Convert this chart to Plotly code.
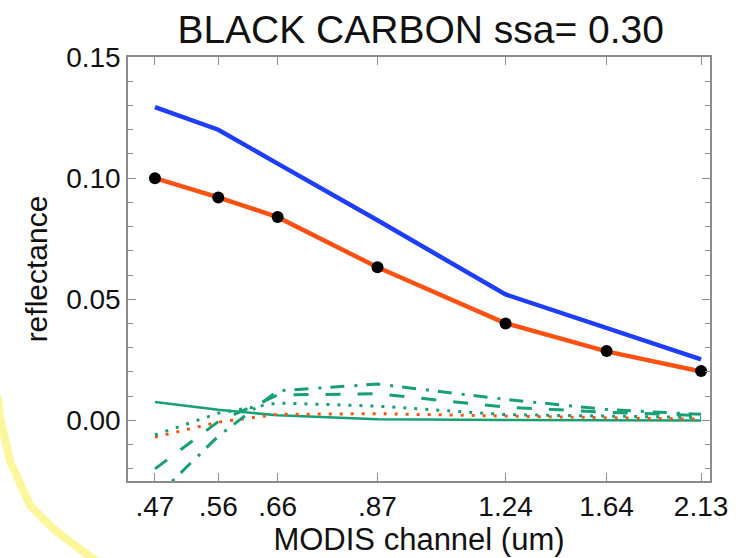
import plotly.graph_objects as go

# ---- data ----
wavelengths = [0.47, 0.56, 0.66, 0.87, 1.24, 1.64, 2.13]
tick_labels = [".47", ".56", ".66", ".87", "1.24", "1.64", "2.13"]

blue_total = [0.1293, 0.1200, 0.1060, 0.0826, 0.0520, 0.0384, 0.0252]
orange_fit = [0.1000, 0.0921, 0.0839, 0.0632, 0.0401, 0.0285, 0.0202]
black_obs = [0.1000, 0.0920, 0.0840, 0.0632, 0.0400, 0.0287, 0.0204]

green_solid = [0.0076, 0.0044, 0.0021, 0.0005, 0.0002, 0.0001, 0.0000]
orange_dotted = [-0.0069, -0.0007, 0.0025, 0.0028, 0.0018, 0.0012, 0.0005]
green_dotted = [-0.0060, 0.0030, 0.0072, 0.0059, 0.0024, 0.0018, 0.0012]
green_dashed = [-0.0200, -0.0005, 0.0105, 0.0110, 0.0055, 0.0034, 0.0020]
green_dashdot = [-0.0320, -0.0065, 0.0122, 0.0150, 0.0087, 0.0045, 0.0025]

BLUE = "#1f3dff"
ORANGE = "#ff5212"
GREEN = "#17a172"

fig = go.Figure()

def add_line(y, color, width, dash="solid"):
    fig.add_trace(go.Scatter(x=wavelengths, y=y, mode="lines",
                             line=dict(color=color, width=width, dash=dash),
                             showlegend=False, hoverinfo="skip"))

add_line(green_solid, GREEN, 2.5)
add_line(orange_dotted, ORANGE, 3, "3px,8px")
add_line(green_dotted, GREEN, 3, "3px,8px")
add_line(green_dashed, GREEN, 3, "15px,17px")
add_line(green_dashdot, GREEN, 3, "14px,10px,3px,9px")
add_line(blue_total, BLUE, 4.5)
add_line(orange_fit, ORANGE, 4.5)

fig.add_trace(go.Scatter(x=wavelengths, y=black_obs, mode="markers",
                         marker=dict(color="black", size=12),
                         showlegend=False, hoverinfo="skip"))

AX = "#8c8c8c"
FONT = "Liberation Sans, Arial, Helvetica, sans-serif"

fig.update_layout(
    width=740, height=558,
    margin=dict(l=128, r=28, t=57, b=76),
    paper_bgcolor="white", plot_bgcolor="white",
    font=dict(family=FONT, color="#111111"),
    title=dict(text="BLACK CARBON ssa= 0.30", x=0.5685, xanchor="center",
               y=0.948, yanchor="middle", font=dict(size=39, color="#111111")),
    xaxis=dict(type="log", range=[-0.3603, 0.3391],
               tickvals=wavelengths, ticktext=tick_labels,
               ticks="inside", ticklen=8, tickcolor=AX, tickwidth=1,
               showline=True, linecolor=AX, linewidth=1.5, mirror="ticks",
               showgrid=False, zeroline=False,
               tickfont=dict(size=28, color="#111111"),
               title=dict(text="MODIS channel (um)", font=dict(size=31), standoff=2)),
    yaxis=dict(range=[-0.025, 0.15], tickvals=[0, 0.05, 0.10, 0.15],
               tickformat=".2f",
               ticks="inside", ticklen=8, tickcolor=AX, tickwidth=1,
               minor=dict(dtick=0.01, tick0=0, ticks="inside", ticklen=5, tickcolor=AX),
               showline=True, linecolor=AX, linewidth=1.5, mirror="ticks",
               showgrid=False, zeroline=False,
               tickfont=dict(size=28, color="#111111"),
               title=dict(text="reflectance", font=dict(size=30), standoff=10)),
)

# pale yellow highlighter stroke in the lower-left corner of the image
fig.add_shape(type="path", xref="paper", yref="paper",
              path=("M -0.2240,0.2000 L -0.2192,0.1459 L -0.2021,0.0447 "
                    "L -0.1678,-0.0588 L -0.1284,-0.1129 L -0.0651,-0.1788 L -0.0480,-0.1950"),
              line=dict(color="#fbf79a", width=8), layer="above")

fig.write_html("out.html")
